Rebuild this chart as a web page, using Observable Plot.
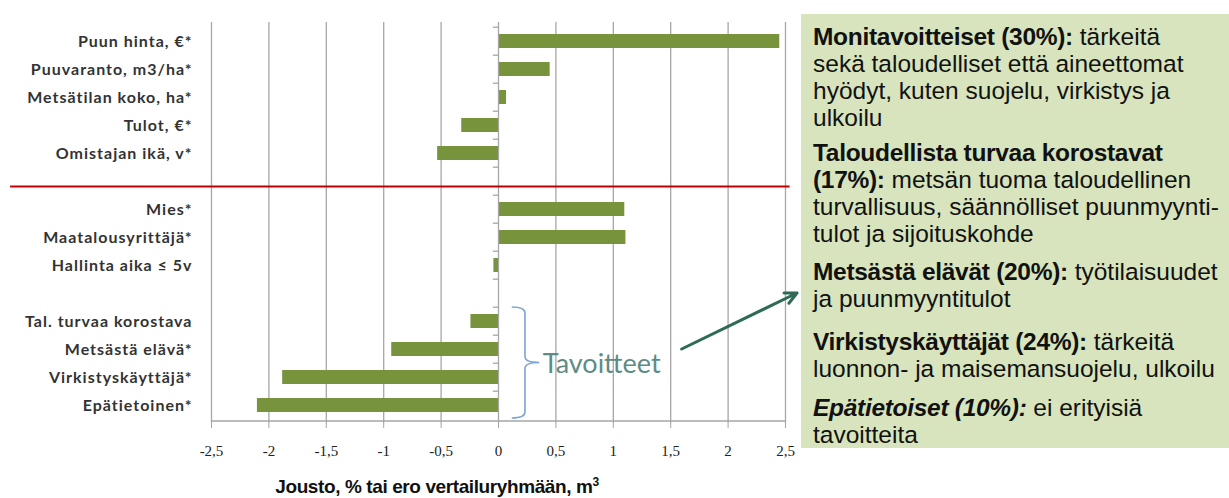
<!DOCTYPE html>
<html>
<head>
<meta charset="utf-8">
<script src="https://cdn.jsdelivr.net/npm/d3@7"></script>
<script src="https://cdn.jsdelivr.net/npm/@observablehq/plot@0.6"></script>
<style>
  html, body { margin: 0; padding: 0; background: #fff; }
  #wrap { position: relative; width: 1229px; height: 498px; overflow: hidden; }
  #chart { position: absolute; left: 0; top: 0; }
  #xtitle { position: absolute; left: 187px; width: 500px; top: 475px; text-align: center;
    font-family: "Liberation Sans", Arial, sans-serif; font-weight: bold; font-size: 19px; color: #111; letter-spacing: -0.4px; }
  #panel { position: absolute; left: 801px; top: 14px; width: 428px; height: 434px; background: #D7E4BD;
    font-family: "Liberation Sans", Arial, sans-serif; font-size: 24.5px; color: #111; line-height: 27px; }
  #panel p { margin: 0; padding-left: 12px; white-space: nowrap; }
  #panel b { letter-spacing: -0.3px; }
  .ytl text { letter-spacing: 1px; }
</style>
</head>
<body>
<div id="wrap">
  <div id="chart"></div>
  <div id="xtitle">Jousto, % tai ero vertailuryhmään, m<sup style="font-size:12px;vertical-align:7px;">3</sup></div>
  <div id="panel"></div>
</div>
<script>
// ---- data ----
const categories = [
  "Puun hinta, €*",
  "Puuvaranto, m3/ha*",
  "Metsätilan koko, ha*",
  "Tulot, €*",
  "Omistajan ikä, v*",
  " ",
  "Mies*",
  "Maatalousyrittäjä*",
  "Hallinta aika ≤ 5v",
  "  ",
  "Tal. turvaa korostava",
  "Metsästä elävä*",
  "Virkistyskäyttäjä*",
  "Epätietoinen*"
];
const values = [2.45, 0.45, 0.07, -0.32, -0.53, null, 1.10, 1.11, -0.04, null, -0.24, -0.93, -1.88, -2.10];
const xTicks = [-2.5, -2, -1.5, -1, -0.5, 0, 0.5, 1, 1.5, 2, 2.5];
const tavoitteetGroup = ["Tal. turvaa korostava", "Epätietoinen*"];
const bracketLabel = "Tavoitteet";

const panelParagraphs = [
  [["b", "Monitavoitteiset (30%):"], ["t", " tärkeitä"], ["br"], ["t", "sekä taloudelliset että aineettomat"], ["br"], ["t", "hyödyt, kuten suojelu, virkistys ja"], ["br"], ["t", "ulkoilu"]],
  [["b", "Taloudellista turvaa korostavat"], ["br"], ["b", "(17%):"], ["t", " metsän tuoma taloudellinen"], ["br"], ["t", "turvallisuus, säännölliset puunmyynti-"], ["br"], ["t", "tulot ja sijoituskohde"]],
  [["b", "Metsästä elävät (20%):"], ["t", " työtilaisuudet"], ["br"], ["t", "ja puunmyyntitulot"]],
  [["b", "Virkistyskäyttäjät (24%):"], ["t", " tärkeitä"], ["br"], ["t", "luonnon- ja maisemansuojelu, ulkoilu"]],
  [["bi", "Epätietoiset (10%):"], ["t", " ei erityisiä"], ["br"], ["t", "tavoitteita"]]
];
const panelMargins = [9, 8, 11, 16, 12];

const rows = categories.map((c, i) => ({category: c, value: values[i]})).filter(d => d.value != null);

// ---- chart ----
const barColor = "#77933C";
const gridColor = "#A6A6A6";

const plot = Plot.plot({
  width: 1229,
  height: 498,
  marginLeft: 211,
  marginRight: 444,
  marginTop: 22,
  marginBottom: 75,
  style: {background: "transparent", overflow: "visible"},
  x: {domain: [-2.5, 2.5], ticks: xTicks},
  y: {domain: categories, paddingInner: 0.5, paddingOuter: 0.25},
  marks: [
    Plot.gridX(xTicks.filter(t => t !== 0), {stroke: gridColor, strokeOpacity: 1, strokeWidth: 1.3}),
    Plot.barX(rows, {x: "value", y: "category", fill: barColor}),
    Plot.ruleX([0], {stroke: gridColor, strokeWidth: 1.3}),
    // category tick marks on the zero axis (at band boundaries)
    Plot.ruleY(categories, {y: d => d, x1: -0.045, x2: 0, dy: -14.3, stroke: gridColor, strokeWidth: 1.3}),
    Plot.axisX({ticks: xTicks, tickFormat: d => String(d).replace(".", ","), tickSize: 5, tickPadding: 17,
      stroke: gridColor, fontSize: 15, fontFamily: "Liberation Serif, serif", color: "#222", label: null}),
    Plot.ruleY([categories[categories.length - 1]], {x1: -2.5, x2: 2.5, dy: 15.5, stroke: gridColor, strokeWidth: 1.3}),
    Plot.axisY({tickSize: 0, tickPadding: 19, fontSize: 16, fontWeight: "bold", fontFamily: "Lato, sans-serif",
      color: "#333", label: null, className: "ytl", tickFormat: d => d.trim()}),
    // separator
    Plot.ruleY([" "], {x1: -4.25, x2: 2.54, dy: 5, stroke: "#C00000", strokeWidth: 2.2, clip: false})
  ]
});
document.getElementById("chart").appendChild(plot);

// ---- annotations using the chart's scales ----
const X = plot.scale("x"), Y = plot.scale("y");
const xs = v => X.apply(v);
const bw = Y.bandwidth;
const yTop = Y.apply(tavoitteetGroup[0]) - 7;
const yBot = Y.apply(tavoitteetGroup[1]) + bw + 6;
const yMid = (yTop + yBot) / 2;
const svg = d3.select(plot);
const bx0 = xs(0.12), bx1 = xs(0.235), bTip = xs(0.36);
const r = 6;
svg.append("path")
  .attr("d", `M${bx0},${yTop} Q${bx1},${yTop} ${bx1},${yTop + r}
              L${bx1},${yMid - r} Q${bx1},${yMid} ${bTip},${yMid}
              Q${bx1},${yMid} ${bx1},${yMid + r}
              L${bx1},${yBot - r} Q${bx1},${yBot} ${bx0},${yBot}`)
  .attr("fill", "none").attr("stroke", "#7BA3D6").attr("stroke-width", 1.6);
svg.append("text")
  .attr("x", xs(0.39)).attr("y", yMid + 10)
  .attr("text-anchor", "start")
  .attr("font-family", "Lato, sans-serif").attr("font-size", 27)
  .attr("fill", "#5E8C84").text(bracketLabel);
// arrow to the panel
const ax1 = xs(1.6), ay1 = Y.apply("Metsästä elävä*") + bw / 2;
const ax2 = 797, ay2 = Y.apply("  ") + bw / 2;
const ang = Math.atan2(ay2 - ay1, ax2 - ax1);
const ah = 13, aw = 0.45;
svg.append("path")
  .attr("d", `M${ax1},${ay1} L${ax2},${ay2}
    M${ax2 - ah * Math.cos(ang - aw)},${ay2 - ah * Math.sin(ang - aw)} L${ax2},${ay2}
    L${ax2 - ah * Math.cos(ang + aw)},${ay2 - ah * Math.sin(ang + aw)}`)
  .attr("fill", "none").attr("stroke", "#2E6B55").attr("stroke-width", 3).attr("stroke-linecap", "round").attr("stroke-linejoin", "round");

// ---- side panel ----
const panel = document.getElementById("panel");
panelParagraphs.forEach((parts, i) => {
  const p = document.createElement("p");
  p.style.marginTop = panelMargins[i] + "px";
  parts.forEach(([k, s]) => {
    if (k === "br") p.appendChild(document.createElement("br"));
    else if (k === "t") p.appendChild(document.createTextNode(s));
    else { const b = document.createElement("b"); b.textContent = s; if (k === "bi") b.style.fontStyle = "italic"; p.appendChild(b); }
  });
  panel.appendChild(p);
});
</script>
</body>
</html>
